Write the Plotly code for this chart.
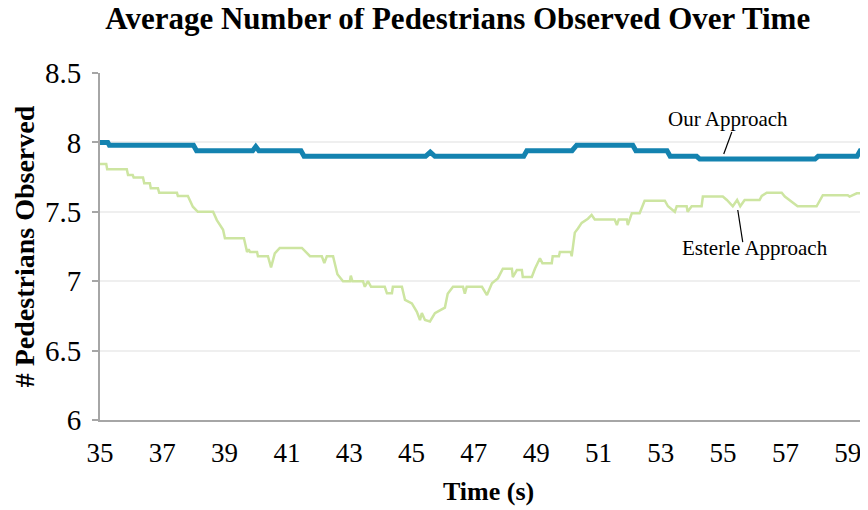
import plotly.graph_objects as go

# time (s) and average pedestrians observed
our_t = [35.0, 35.25, 35.3, 38.0, 38.1, 39.9, 40.0, 40.1, 41.45, 41.55, 45.45, 45.6, 45.75,
         48.6, 48.7, 50.15, 50.3, 52.1, 52.2, 53.2, 53.3, 54.15, 54.25, 57.95, 58.05,
         59.3, 59.4, 59.7]
our_y = [8.0, 8.0, 7.98, 7.98, 7.94, 7.94, 7.97, 7.94, 7.94, 7.90, 7.90, 7.93, 7.90,
         7.90, 7.94, 7.94, 7.98, 7.98, 7.94, 7.94, 7.90, 7.90, 7.88, 7.88, 7.90,
         7.90, 7.94, 7.94]

est_t = [35.0, 35.2, 35.23, 35.86, 35.9, 36.05, 36.08, 36.38, 36.42, 36.6, 36.63, 36.86,
         36.9, 37.47, 37.5, 37.82, 37.98, 38.14, 38.63, 38.75, 38.95, 39.01, 39.62, 39.72,
         39.77, 39.82, 40.04, 40.07, 40.39, 40.49, 40.61, 40.77, 41.48, 41.6, 41.74, 42.12,
         42.2, 42.28, 42.48, 42.62, 42.8, 43.02, 43.05, 43.1, 43.44, 43.5, 43.6, 43.7,
         44.14, 44.21, 44.37, 44.4, 44.69, 44.79, 45.01, 45.17, 45.27, 45.33, 45.43, 45.59,
         45.75, 45.91, 46.07, 46.16, 46.33, 46.65, 46.71, 46.77, 47.26, 47.42, 47.58, 47.77,
         47.93, 48.22, 48.25, 48.38, 48.54, 48.57, 48.86, 48.96, 49.12, 49.2, 49.5, 49.53,
         49.73, 49.76, 50.11, 50.14, 50.24, 50.34, 50.46, 50.66, 50.78, 50.88, 51.52, 51.59,
         51.65, 51.91, 51.94, 52.07, 52.32, 52.48, 53.13, 53.23, 53.45, 53.51, 53.83, 53.86,
         53.99, 54.31, 54.35, 54.99, 55.12, 55.31, 55.45, 55.55, 55.69, 56.17, 56.24, 56.4,
         56.88, 56.98, 57.2, 57.39, 58.0, 58.2, 59.0, 59.06, 59.29, 59.7]
est_y = [7.845, 7.845, 7.806, 7.806, 7.765, 7.765, 7.748, 7.748, 7.705, 7.705, 7.669, 7.669,
         7.637, 7.637, 7.614, 7.614, 7.537, 7.50, 7.50, 7.44, 7.37, 7.31, 7.31, 7.21,
         7.23, 7.21, 7.21, 7.18, 7.18, 7.10, 7.20, 7.24, 7.24, 7.21, 7.18, 7.18,
         7.13, 7.18, 7.18, 7.05, 7.0, 7.0, 7.04, 7.0, 7.0, 6.96, 7.0, 6.96,
         6.96, 6.913, 6.913, 6.96, 6.96, 6.865, 6.84, 6.78, 6.72, 6.77, 6.72, 6.71,
         6.77, 6.79, 6.81, 6.91, 6.96, 6.96, 6.91, 6.96, 6.96, 6.90, 6.985, 7.02,
         7.09, 7.09, 7.03, 7.08, 7.08, 7.03, 7.03, 7.09, 7.165, 7.13, 7.13, 7.18,
         7.18, 7.21, 7.21, 7.18, 7.35, 7.38, 7.42, 7.45, 7.477, 7.445, 7.445, 7.405,
         7.445, 7.445, 7.405, 7.49, 7.49, 7.58, 7.58, 7.54, 7.50, 7.54, 7.54, 7.50,
         7.54, 7.54, 7.61, 7.61, 7.585, 7.54, 7.585, 7.54, 7.585, 7.585, 7.614, 7.637,
         7.637, 7.61, 7.57, 7.54, 7.54, 7.62, 7.62, 7.61, 7.633, 7.633]

x_ticks = list(range(35, 60, 2))
y_ticks = [6, 6.5, 7, 7.5, 8, 8.5]

FONT = "Liberation Serif, Times New Roman, serif"

fig = go.Figure()
fig.add_trace(go.Scatter(x=est_t, y=est_y, mode='lines', name='Esterle Approach',
                         line=dict(color='#cde5a1', width=2.5)))
fig.add_trace(go.Scatter(x=our_t, y=our_y, mode='lines', name='Our Approach',
                         line=dict(color='#1483b0', width=5)))

# callout labels with leader lines
fig.add_shape(type='line', x0=55.28, y0=8.075, x1=55.02, y1=7.916,
              line=dict(color='black', width=1.2))
fig.add_annotation(x=55.15, y=8.168, text="Our Approach", showarrow=False,
                   font=dict(size=21, color='black', family=FONT))
fig.add_shape(type='line', x0=55.47, y0=7.513, x1=55.63, y1=7.282,
              line=dict(color='black', width=1.2))
fig.add_annotation(x=56.01, y=7.239, text="Esterle Approach", showarrow=False,
                   font=dict(size=21, color='black', family=FONT))

# the page body adds an 8px offset, so the figure is 8px smaller and margins trimmed
fig.update_layout(
    width=860, height=502,
    margin=dict(l=92, r=0, t=65, b=90),
    plot_bgcolor='white', paper_bgcolor='white',
    showlegend=False,
    font=dict(family=FONT, color='black'),
    title=dict(text="<b>Average Number of Pedestrians Observed Over Time</b>",
               x=0.523, xanchor='center', y=0.979, yanchor='middle', yref='container',
               font=dict(size=31, color='black', family=FONT)),
)
fig.update_xaxes(range=[35, 59.65], tickvals=x_ticks, showgrid=False, zeroline=False,
                 showline=True, linecolor='#a6a6a6', linewidth=2, ticks='',
                 tickfont=dict(size=27), ticklabelstandoff=8, automargin=False)
fig.update_yaxes(range=[6, 8.5], tickvals=y_ticks, ticktext=['6', '6.5', '7', '7.5', '8', '8.5'],
                 showgrid=True, gridcolor='#efefef', gridwidth=2, zeroline=False,
                 showline=True, linecolor='#a6a6a6', linewidth=2, ticks='outside',
                 ticklen=6, tickcolor='#a6a6a6', tickwidth=2, tickfont=dict(size=29),
                 ticklabelstandoff=5, automargin=False)
fig.add_annotation(text="<b>Time (s)</b>", xref='paper', yref='paper', x=0.5065, y=-0.207,
                   xanchor='center', yanchor='middle', showarrow=False,
                   font=dict(size=26, family=FONT, color='black'))
fig.add_annotation(text="<b># Pedestrians Observed</b>", xref='paper', yref='paper',
                   x=-0.098, y=0.5, xanchor='center', yanchor='middle', textangle=-90,
                   showarrow=False, font=dict(size=28, family=FONT, color='black'))

fig.write_html("out.html")
